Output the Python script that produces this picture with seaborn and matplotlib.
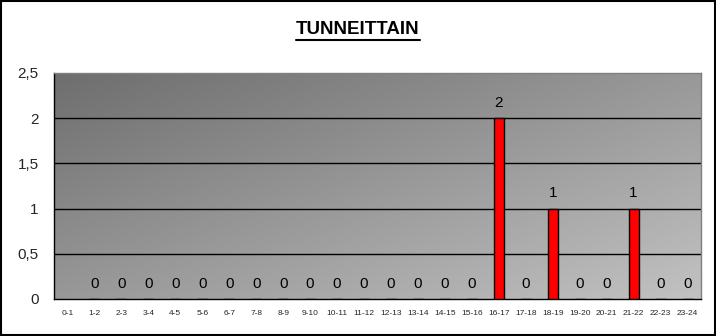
import numpy as np
import pandas as pd
import matplotlib
matplotlib.use("Agg")
import matplotlib.pyplot as plt
import seaborn as sns
from matplotlib.colors import LinearSegmentedColormap

categories = ["0-1", "1-2", "2-3", "3-4", "4-5", "5-6", "6-7", "7-8", "8-9", "9-10",
              "10-11", "11-12", "12-13", "13-14", "14-15", "15-16", "16-17", "17-18",
              "18-19", "19-20", "20-21", "21-22", "22-23", "23-24"]
values = [np.nan, 0, 0, 0, 0, 0, 0, 0, 0, 0, 0, 0, 0, 0, 0, 0, 2, 0, 1, 0, 0, 1, 0, 0]
yticks = [0, 0.5, 1, 1.5, 2, 2.5]
ytick_labels = ["0", "0,5", "1", "1,5", "2", "2,5"]
title = "TUNNEITTAIN"

df = pd.DataFrame({"cat": categories, "val": values})

sns.set_theme(style="white")
plt.rcParams["font.family"] = ["Liberation Sans", "DejaVu Sans"]

fig = plt.figure(figsize=(7.16, 3.36), dpi=100)
fig.patch.set_facecolor("white")
ax = fig.add_axes([54/716, 37/336, 647/716, 226/336])

# gradient background: dark top-left -> light bottom-right
n = 200
xx, yy = np.meshgrid(np.linspace(0, 1, n), np.linspace(0, 1, n))
grad = (xx * 0.5 + yy * 0.5)
cmap = LinearSegmentedColormap.from_list("g", ["#6e6e6e", "#c2c2c2"])
ax.imshow(grad, cmap=cmap, extent=[0, 1, 0, 1], transform=ax.transAxes,
          aspect="auto", zorder=0, origin="upper")

sns.barplot(data=df, x="cat", y="val", ax=ax, color="#ff0000", width=0.37,
            edgecolor="black", linewidth=1, saturation=1, zorder=3)

ax.set_ylim(0, 2.5)
ax.set_xlim(-0.5, len(categories) - 0.5)
ax.set_yticks(yticks)
ax.set_yticklabels(ytick_labels, fontsize=11)
for y in yticks[1:-1]:
    ax.axhline(y, color="black", linewidth=1, zorder=2)

ax.set_xticks(range(len(categories)))
ax.set_xticklabels(categories, fontsize=6)
ax.tick_params(axis="x", length=0, pad=8)
ax.set_xticks(np.arange(-0.5, len(categories), 1), minor=True)
ax.tick_params(axis="x", which="minor", length=4, width=1, color="black", direction="out")
ax.tick_params(axis="y", length=5, width=1, color="black", direction="out", pad=6)
ax.set_xlabel("")
ax.set_ylabel("")

for s in ["left", "bottom"]:
    ax.spines[s].set_color("black")
    ax.spines[s].set_linewidth(1)
for s in ["top", "right"]:
    ax.spines[s].set_color("#808080")
    ax.spines[s].set_linewidth(1)

for i, v in enumerate(values):
    if not np.isnan(v):
        ax.annotate(f"{v:g}", (i, v), xytext=(0, 6), textcoords="offset points",
                    ha="center", va="bottom", fontsize=11, color="black", zorder=4)

t = fig.text(0.5, 1 - 29/336, title, ha="center", va="center", fontsize=13.5,
             fontweight="bold", color="black")
fig.canvas.draw()
bb = t.get_window_extent().transformed(fig.transFigure.inverted())
fig.add_artist(plt.Line2D([bb.x0, bb.x1], [bb.y0 - 0.006, bb.y0 - 0.006],
                          transform=fig.transFigure, color="black", linewidth=1.5))

fig.add_artist(plt.Rectangle((0.001, 0.002), 0.997, 0.995, transform=fig.transFigure,
                             fill=False, edgecolor="black", linewidth=1.5))

fig.savefig("out.png", dpi=100, facecolor="white")
